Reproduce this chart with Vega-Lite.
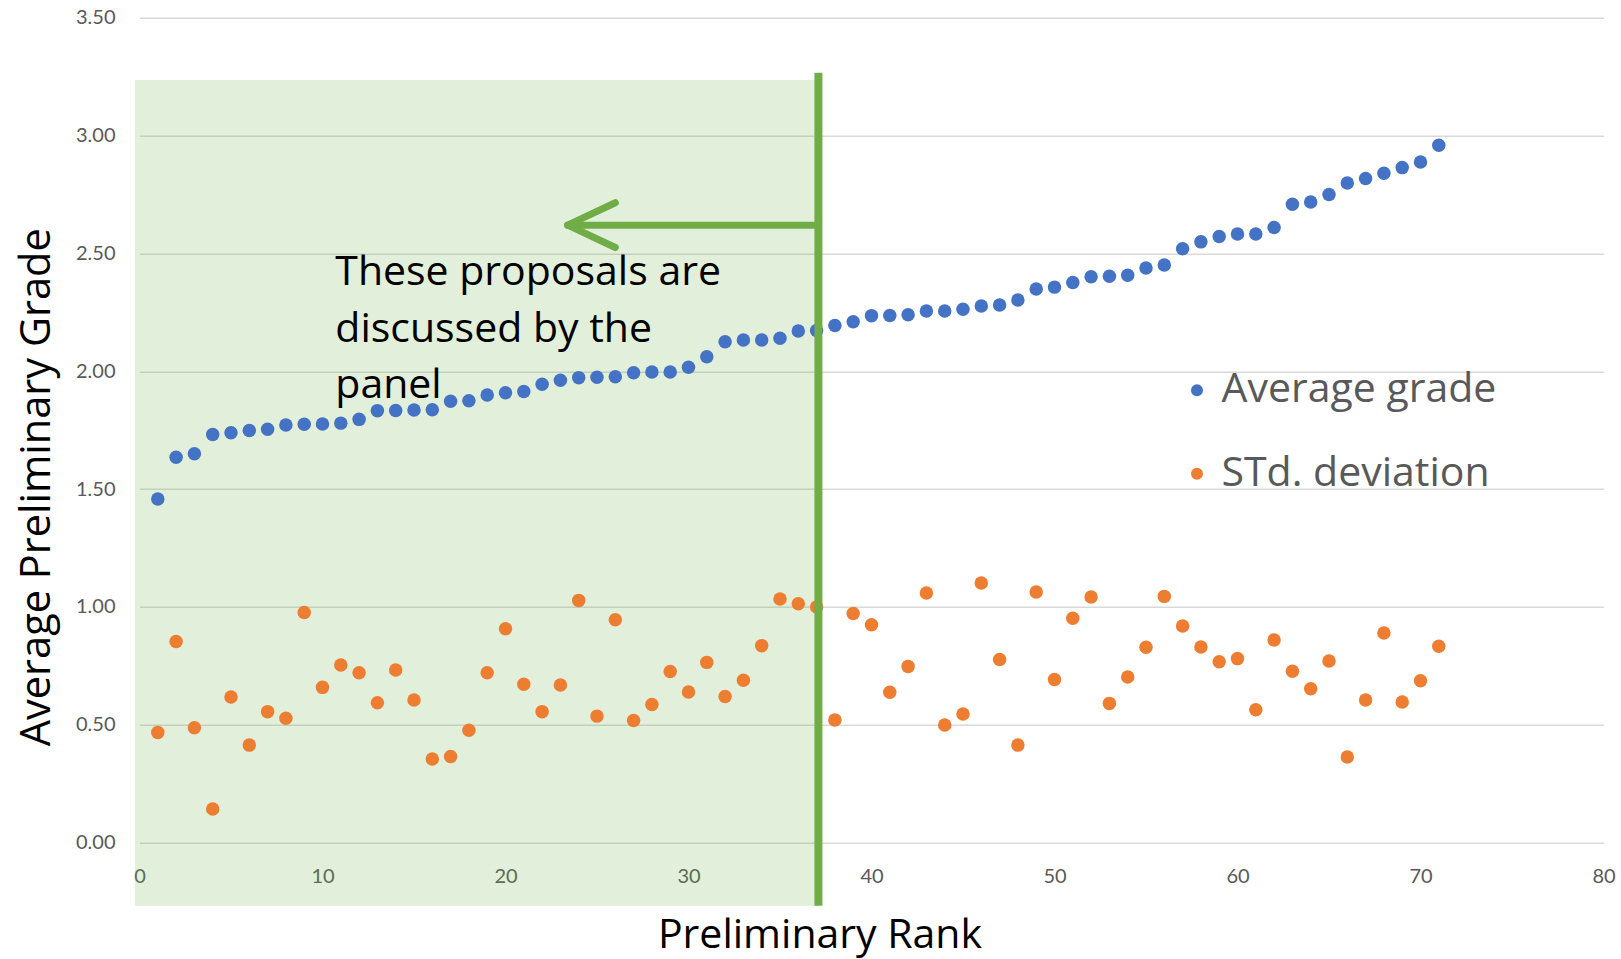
{
  "$schema": "https://vega.github.io/schema/vega-lite/v6.json",
  "autosize": {"type": "none"},
  "width": 1464,
  "height": 825,
  "padding": {"left": 139.5, "top": 17.7, "right": 17.5, "bottom": 116.3},
  "background": "white",
  "config": {
    "view": {"stroke": null},
    "font": "Lato",
    "axis": {"labelFont": "Lato", "titleFont": "Open Sans"},
    "legend": {"labelFont": "Open Sans"}
  },
  "layer": [
    {
      "data": {"values": [{}]},
      "mark": {"type": "rect", "color": "#70ad47", "opacity": 0.2},
      "encoding": {
        "x": {"datum": -0.25, "type": "quantitative"},
        "x2": {"datum": 37.1},
        "y": {"datum": -0.267, "type": "quantitative"},
        "y2": {"datum": 3.236}
      }
    },
    {
      "data": {
        "values": [
          {"rank": 1, "avg": 1.458, "sd": 0.468},
          {"rank": 2, "avg": 1.635, "sd": 0.854},
          {"rank": 3, "avg": 1.650, "sd": 0.488},
          {"rank": 4, "avg": 1.732, "sd": 0.143},
          {"rank": 5, "avg": 1.739, "sd": 0.618},
          {"rank": 6, "avg": 1.749, "sd": 0.414},
          {"rank": 7, "avg": 1.754, "sd": 0.556},
          {"rank": 8, "avg": 1.772, "sd": 0.528},
          {"rank": 9, "avg": 1.775, "sd": 0.977},
          {"rank": 10, "avg": 1.776, "sd": 0.659},
          {"rank": 11, "avg": 1.780, "sd": 0.754},
          {"rank": 12, "avg": 1.796, "sd": 0.721},
          {"rank": 13, "avg": 1.833, "sd": 0.594},
          {"rank": 14, "avg": 1.834, "sd": 0.733},
          {"rank": 15, "avg": 1.836, "sd": 0.605},
          {"rank": 16, "avg": 1.837, "sd": 0.355},
          {"rank": 17, "avg": 1.873, "sd": 0.366},
          {"rank": 18, "avg": 1.875, "sd": 0.477},
          {"rank": 19, "avg": 1.899, "sd": 0.721},
          {"rank": 20, "avg": 1.909, "sd": 0.908},
          {"rank": 21, "avg": 1.914, "sd": 0.672},
          {"rank": 22, "avg": 1.945, "sd": 0.556},
          {"rank": 23, "avg": 1.962, "sd": 0.669},
          {"rank": 24, "avg": 1.973, "sd": 1.028},
          {"rank": 25, "avg": 1.975, "sd": 0.537},
          {"rank": 26, "avg": 1.977, "sd": 0.946},
          {"rank": 27, "avg": 1.994, "sd": 0.518},
          {"rank": 28, "avg": 1.997, "sd": 0.586},
          {"rank": 29, "avg": 1.997, "sd": 0.726},
          {"rank": 30, "avg": 2.017, "sd": 0.639},
          {"rank": 31, "avg": 2.062, "sd": 0.765},
          {"rank": 32, "avg": 2.125, "sd": 0.620},
          {"rank": 33, "avg": 2.133, "sd": 0.689},
          {"rank": 34, "avg": 2.133, "sd": 0.836},
          {"rank": 35, "avg": 2.140, "sd": 1.034},
          {"rank": 36, "avg": 2.171, "sd": 1.014},
          {"rank": 37, "avg": 2.173, "sd": 1.000},
          {"rank": 38, "avg": 2.194, "sd": 0.521},
          {"rank": 39, "avg": 2.210, "sd": 0.972},
          {"rank": 40, "avg": 2.236, "sd": 0.925},
          {"rank": 41, "avg": 2.237, "sd": 0.638},
          {"rank": 42, "avg": 2.240, "sd": 0.748},
          {"rank": 43, "avg": 2.256, "sd": 1.059},
          {"rank": 44, "avg": 2.256, "sd": 0.499},
          {"rank": 45, "avg": 2.263, "sd": 0.546},
          {"rank": 46, "avg": 2.277, "sd": 1.102},
          {"rank": 47, "avg": 2.281, "sd": 0.777},
          {"rank": 48, "avg": 2.302, "sd": 0.414},
          {"rank": 49, "avg": 2.349, "sd": 1.064},
          {"rank": 50, "avg": 2.357, "sd": 0.692},
          {"rank": 51, "avg": 2.377, "sd": 0.952},
          {"rank": 52, "avg": 2.401, "sd": 1.042},
          {"rank": 53, "avg": 2.403, "sd": 0.591},
          {"rank": 54, "avg": 2.407, "sd": 0.703},
          {"rank": 55, "avg": 2.438, "sd": 0.829},
          {"rank": 56, "avg": 2.451, "sd": 1.045},
          {"rank": 57, "avg": 2.520, "sd": 0.919},
          {"rank": 58, "avg": 2.549, "sd": 0.830},
          {"rank": 59, "avg": 2.572, "sd": 0.768},
          {"rank": 60, "avg": 2.582, "sd": 0.781},
          {"rank": 61, "avg": 2.582, "sd": 0.564},
          {"rank": 62, "avg": 2.610, "sd": 0.860},
          {"rank": 63, "avg": 2.709, "sd": 0.727},
          {"rank": 64, "avg": 2.718, "sd": 0.653},
          {"rank": 65, "avg": 2.750, "sd": 0.771},
          {"rank": 66, "avg": 2.799, "sd": 0.364},
          {"rank": 67, "avg": 2.818, "sd": 0.605},
          {"rank": 68, "avg": 2.840, "sd": 0.890},
          {"rank": 69, "avg": 2.864, "sd": 0.597},
          {"rank": 70, "avg": 2.888, "sd": 0.687},
          {"rank": 71, "avg": 2.959, "sd": 0.833}
        ]
      },
      "transform": [{"fold": ["avg", "sd"], "as": ["series", "value"]}],
      "mark": {"type": "point", "filled": true, "opacity": 1, "size": 182, "shape": "circle"},
      "encoding": {
        "x": {
          "field": "rank",
          "type": "quantitative",
          "scale": {"domain": [0, 80], "nice": false, "zero": false},
          "axis": {
            "values": [0, 10, 20, 30, 40, 50, 60, 70, 80],
            "grid": false,
            "domain": false,
            "ticks": false,
            "tickSize": 0,
            "labelPadding": 40,
            "labelBaseline": "alphabetic",
            "labelFontSize": 20,
            "labelColor": "#595959",
            "labelFlush": false,
            "labelOverlap": false,
            "title": "Preliminary Rank",
            "titleFontSize": 41,
            "titleFontWeight": "normal",
            "titleColor": "#000000",
            "titleX": 680,
            "titleY": 105,
            "titleBaseline": "alphabetic",
            "titleAlign": "center"
          }
        },
        "y": {
          "field": "value",
          "type": "quantitative",
          "scale": {"domain": [0, 3.5], "nice": false},
          "axis": {
            "values": [0, 0.5, 1, 1.5, 2, 2.5, 3, 3.5],
            "format": ".2f",
            "grid": true,
            "gridColor": "#d9d9d9",
            "gridWidth": 1.5,
            "domain": false,
            "ticks": false,
            "tickSize": 0,
            "labelPadding": 24.5,
            "labelFontSize": 20,
            "labelColor": "#595959",
            "labelFlush": false,
            "labelOverlap": false,
            "title": "Average Preliminary Grade",
            "titleFontSize": 41.5,
            "titleFontWeight": "normal",
            "titleColor": "#000000",
            "titleX": -90,
            "titleY": 469,
            "titleBaseline": "alphabetic",
            "titleAlign": "center",
            "titleAngle": -90
          }
        },
        "color": {
          "field": "series",
          "type": "nominal",
          "scale": {"domain": ["avg", "sd"], "range": ["#4472c4", "#ed7d31"]},
          "legend": {
            "title": null,
            "orient": "none",
            "legendX": 1037,
            "legendY": 352,
            "padding": 0,
            "symbolType": "circle",
            "symbolSize": 144,
            "symbolStrokeWidth": 0,
            "labelFontSize": 41,
            "labelColor": "#595959",
            "labelOffset": 4,
            "labelLimit": 0,
            "rowPadding": 41.5,
            "labelExpr": "datum.label == 'avg' ? 'Average grade' : 'STd. deviation'"
          }
        }
      }
    },
    {
      "data": {"values": [{}]},
      "mark": {"type": "rule", "color": "#70ad47", "strokeWidth": 8},
      "encoding": {
        "x": {"datum": 37.1, "type": "quantitative"},
        "y": {"datum": -0.267, "type": "quantitative"},
        "y2": {"datum": 3.266}
      }
    },
    {
      "data": {"values": [{}]},
      "mark": {"type": "rule", "color": "#70ad47", "strokeWidth": 7, "strokeCap": "round"},
      "encoding": {
        "x": {"datum": 23.4, "type": "quantitative"},
        "x2": {"datum": 37.1},
        "y": {"datum": 2.62, "type": "quantitative"},
        "y2": {"datum": 2.62}
      }
    },
    {
      "data": {"values": [{}]},
      "mark": {"type": "rule", "color": "#70ad47", "strokeWidth": 7, "strokeCap": "round"},
      "encoding": {
        "x": {"datum": 23.4, "type": "quantitative"},
        "x2": {"datum": 26.0},
        "y": {"datum": 2.62, "type": "quantitative"},
        "y2": {"datum": 2.715}
      }
    },
    {
      "data": {"values": [{}]},
      "mark": {"type": "rule", "color": "#70ad47", "strokeWidth": 7, "strokeCap": "round"},
      "encoding": {
        "x": {"datum": 23.4, "type": "quantitative"},
        "x2": {"datum": 26.0},
        "y": {"datum": 2.62, "type": "quantitative"},
        "y2": {"datum": 2.525}
      }
    },
    {
      "data": {"values": [{}]},
      "mark": {
        "type": "text",
        "text": ["These proposals are", "discussed by the", "panel"],
        "font": "Open Sans",
        "fontSize": 41,
        "color": "#000000",
        "align": "left",
        "baseline": "alphabetic",
        "lineHeight": 56.7
      },
      "encoding": {
        "x": {"datum": 10.7, "type": "quantitative"},
        "y": {"datum": 2.366, "type": "quantitative"}
      }
    }
  ]
}
